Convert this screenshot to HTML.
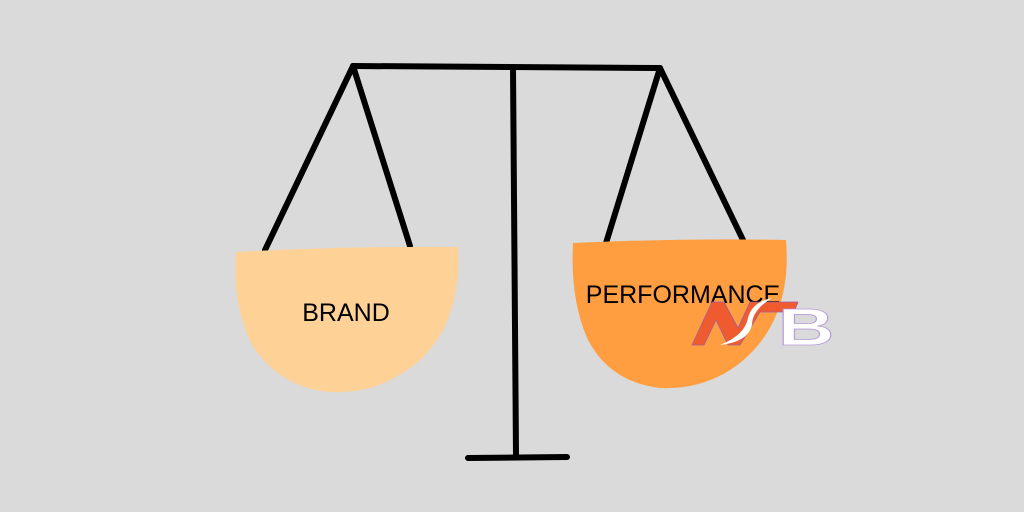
<!DOCTYPE html>
<html><head><meta charset="utf-8"><style>
html,body{margin:0;padding:0;background:#dadada;}
svg{display:block}
</style></head><body>
<svg width="1024" height="512" viewBox="0 0 1024 512" xmlns="http://www.w3.org/2000/svg">
<rect width="1024" height="512" fill="#dadada"/>
<g stroke="#000" stroke-width="6" stroke-linecap="round" fill="none">
<line x1="353" y1="66" x2="660" y2="68"/>
<line x1="513" y1="68" x2="516" y2="456"/>
<line x1="468" y1="458" x2="567" y2="457"/>
<line x1="353" y1="66" x2="265" y2="250"/>
<line x1="353" y1="66" x2="410" y2="246"/>
<line x1="660" y1="68" x2="606" y2="243"/>
<line x1="660" y1="68" x2="743" y2="240"/>
</g>
<path d="M236 252 Q340 246 458 247 Q462 320 420 360 Q380 395 330 392 Q280 388 252 345 Q232 305 236 252 Z" fill="#fed197"/>
<path d="M573 243 Q680 238 786 240 Q792 310 752 352 Q715 390 660 388 Q610 382 588 340 Q570 300 573 243 Z" fill="#fe9e40"/>
<text x="346" y="321" font-family="Liberation Sans, sans-serif" font-size="25" text-anchor="middle" fill="#000">BRAND</text>
<text x="683" y="303" font-family="Liberation Sans, sans-serif" font-size="25" text-anchor="middle" fill="#000">PERFORMANCE</text>
<g>
<path d="M692 345 L712 302 L724 302 L738 328 L750 302 L798 302 L794 312 L760 312 L740 345 L728 345 L716 320 L704 345 Z" fill="#ef5a2e" stroke="#a060a0" stroke-width="0.8"/>
<path d="M720 345 Q745 335 748 318 Q752 302 772 298 Q752 310 752 325 Q748 342 720 345 Z" fill="#fff"/>
<text transform="translate(778 345) scale(1.5 1)" x="0" y="0" font-family="Liberation Sans, sans-serif" font-weight="bold" font-size="52" fill="#fff" stroke="#b79ad8" stroke-width="0.8">B</text>
</g>
</svg>
</body></html>
